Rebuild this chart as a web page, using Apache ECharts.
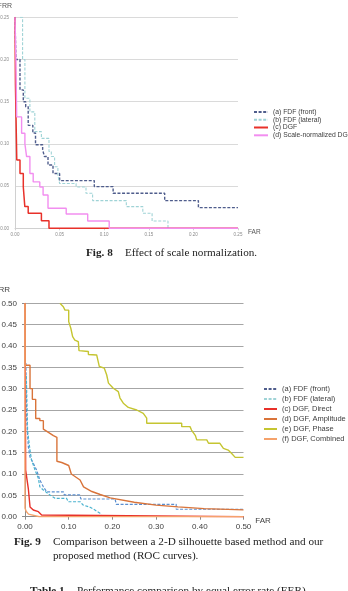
<!DOCTYPE html>
<html>
<head>
<meta charset="utf-8">
<script src="https://cdn.jsdelivr.net/npm/echarts@6/dist/echarts.min.js"></script>
<style>
html, body {margin: 0; padding: 0; background: #fff;}
#chart {width: 348px; height: 591px;}
</style>
</head>
<body>
<div id="chart"></div>
<script>
// Fig. 8 - effect of scale normalization, [FAR, FRR] step points
const fig8Names = ['(a) FDF (front)', '(b) FDF (lateral)', '(c) DGF', '(d) Scale-normalized DGF']
const fig8Front = [[0, 0.25], [0.001, 0.20], [0.0056, 0.164], [0.0093, 0.15], [0.012, 0.144], [0.0148, 0.122],
    [0.02, 0.113], [0.023, 0.099], [0.031, 0.093], [0.033, 0.085], [0.037, 0.075], [0.0426, 0.065],
    [0.05, 0.0565], [0.0889, 0.0494], [0.11, 0.0415], [0.1678, 0.0328], [0.2056, 0.0245], [0.25, 0.0245]]
const fig8Lateral = [[0.0056, 0.25], [0.0085, 0.20], [0.0111, 0.154], [0.0167, 0.138], [0.0222, 0.1145],
    [0.0296, 0.1066], [0.0381, 0.091], [0.0407, 0.085], [0.0444, 0.073], [0.0481, 0.063], [0.05, 0.053],
    [0.0685, 0.049], [0.0796, 0.0415], [0.087, 0.0328], [0.1248, 0.0257], [0.1433, 0.0178], [0.1537, 0.0087],
    [0.1715, 0]]
const fig8Dgf = [[0, 0.25], [0.0005, 0.17], [0.0015, 0.11], [0.002, 0.081], [0.0056, 0.065], [0.0093, 0.049],
    [0.011, 0.0257], [0.0148, 0.0178], [0.0296, 0.009], [0.0381, 0], [0.25, 0]]
const fig8Scaled = [[0, 0.25], [0.001, 0.2], [0.0019, 0.132], [0.0074, 0.1126], [0.0111, 0.1], [0.013, 0.085],
    [0.0167, 0.065], [0.0204, 0.055], [0.0278, 0.049], [0.0315, 0.0395], [0.037, 0.0237], [0.0574, 0.017],
    [0.0815, 0.0087], [0.1056, 0], [0.25, 0]]

// Fig. 9 - ROC curves, [FAR, FRR] polyline vertices
const fig9Names = ['(a) FDF (front)', '(b) FDF (lateral)', '(c) DGF, Direct', '(d) DGF, Amplitude',
    '(e) DGF, Phase', '(f) DGF, Combined']
const fig9Front = [[0.002, 0.36], [0.004, 0.227], [0.0076, 0.164], [0.0114, 0.14], [0.019, 0.125], [0.0267, 0.109],
    [0.034, 0.086], [0.042, 0.07], [0.05, 0.058], [0.088, 0.058], [0.09, 0.051], [0.125, 0.051], [0.128, 0.0415],
    [0.206, 0.0415], [0.209, 0.029], [0.346, 0.029], [0.346, 0.0175], [0.5, 0.0175]]
const fig9Lateral = [[0.003, 0.33], [0.006, 0.2], [0.0114, 0.156], [0.015, 0.133], [0.023, 0.109], [0.0305, 0.09],
    [0.034, 0.07], [0.042, 0.0625], [0.057, 0.051], [0.0687, 0.043], [0.095, 0.043], [0.099, 0.035], [0.126, 0.035],
    [0.133, 0.0274], [0.149, 0.022], [0.16, 0.0157], [0.1716, 0.008], [0.175, 0]]
const fig9Direct = [[0, 0.5], [0.0015, 0.109], [0.0076, 0.066], [0.0115, 0.023], [0.019, 0.0157], [0.0306, 0.0117],
    [0.038, 0.004], [0.04, 0], [0.5, 0]]
const fig9Amplitude = [[0, 0.5], [0, 0.355], [0.0115, 0.355], [0.0115, 0.30], [0.0168, 0.30], [0.0168, 0.275],
    [0.0245, 0.275], [0.0245, 0.23], [0.034, 0.23], [0.034, 0.225], [0.042, 0.225], [0.042, 0.205], [0.05, 0.2],
    [0.065, 0.19], [0.073, 0.186], [0.073, 0.13], [0.084, 0.127], [0.1, 0.12], [0.106, 0.1], [0.126, 0.086],
    [0.134, 0.07], [0.153, 0.059], [0.172, 0.052], [0.195, 0.044], [0.25, 0.034], [0.3, 0.027], [0.35, 0.023],
    [0.41, 0.019], [0.5, 0.016]]
const fig9Phase = [[0.08, 0.5], [0.0877, 0.492], [0.0915, 0.484], [0.1, 0.484], [0.1, 0.457], [0.105, 0.441],
    [0.109, 0.422], [0.114, 0.414], [0.122, 0.41], [0.1236, 0.389], [0.145, 0.387], [0.145, 0.38], [0.164, 0.379],
    [0.17, 0.352], [0.1815, 0.348], [0.187, 0.332], [0.191, 0.313], [0.202, 0.301], [0.2135, 0.293], [0.2174, 0.278],
    [0.225, 0.266], [0.2364, 0.256], [0.2556, 0.25], [0.2707, 0.242], [0.2785, 0.231], [0.2785, 0.219],
    [0.3586, 0.219], [0.3586, 0.211], [0.3776, 0.211], [0.381, 0.203], [0.39, 0.19], [0.393, 0.18], [0.416, 0.18],
    [0.42, 0.172], [0.446, 0.172], [0.454, 0.16], [0.465, 0.156], [0.473, 0.148], [0.481, 0.139], [0.5, 0.139]]
const fig9Combined = [[0, 0.5], [0, 0.02], [0.003, 0.012], [0.008, 0.006], [0.033, 0], [0.5, 0]]

const fig8Colors = ['#4f5d8c', '#9fd3d6', '#e8312a', '#f28ef0']
const fig9Colors = ['#5b8fd0', '#4bb3cf', '#e8312a', '#d9743a', '#c5c531', '#f5a26b']

const fmt = v => v.toFixed(2)

const chart = echarts.init(document.getElementById('chart'))

function line(name, data, color, width, dashed, axis, step) {
    return {
        name: name, type: 'line', data: data, step: step,
        xAxisIndex: axis, yAxisIndex: axis,
        symbol: 'none', silent: true, animation: false,
        lineStyle: {color: color, width: width, type: dashed ? [3, 1.6] : 'solid'},
        itemStyle: {color: color}
    }
}

const captionFont = '11.2px "Liberation Serif"'
const captionBold = 'bold 11.2px "Liberation Serif"'

chart.setOption({
    animation: false,
    grid: [
        {left: 15, top: 17.3, width: 223, height: 211, outerBoundsMode: 'none', containLabel: false},
        {left: 25, top: 303.3, width: 218.5, height: 213.4, outerBoundsMode: 'none', containLabel: false}
    ],
    xAxis: [
        {
            type: 'value', gridIndex: 0, min: 0, max: 0.25, interval: 0.05,
            name: 'FAR', nameLocation: 'end', nameGap: 10,
            nameTextStyle: {fontSize: 6.5, color: '#555', fontFamily: 'Liberation Sans', verticalAlign: 'top'},
            axisLine: {show: true, lineStyle: {color: '#d0d0d0'}},
            axisTick: {show: true, length: 2, lineStyle: {color: '#d0d0d0'}},
            splitLine: {show: false},
            axisLabel: {fontSize: 4.5, color: '#8a8a8a', margin: 4, formatter: fmt, fontFamily: 'Liberation Sans'}
        },
        {
            type: 'value', gridIndex: 1, min: 0, max: 0.5, interval: 0.1,
            name: 'FAR', nameLocation: 'end', nameGap: 9,
            nameTextStyle: {fontSize: 8, color: '#404040', fontFamily: 'Liberation Sans', verticalAlign: 'top'},
            axisLine: {show: true, lineStyle: {color: '#8c8c8c'}},
            axisTick: {show: true, length: 3, lineStyle: {color: '#8c8c8c'}},
            splitLine: {show: false},
            axisLabel: {fontSize: 8, color: '#404040', margin: 6, formatter: fmt, fontFamily: 'Liberation Sans'}
        }
    ],
    yAxis: [
        {
            type: 'value', gridIndex: 0, min: 0, max: 0.25, interval: 0.05,
            name: 'FRR', nameLocation: 'end', nameGap: 8,
            nameTextStyle: {fontSize: 7, color: '#555', fontFamily: 'Liberation Sans', align: 'right', padding: [0, 3, 0, 0]},
            axisLine: {show: true, lineStyle: {color: '#d0d0d0'}},
            axisTick: {show: false},
            splitLine: {show: true, lineStyle: {color: '#dadada', width: 1}},
            axisLabel: {fontSize: 4.5, color: '#8a8a8a', margin: 6, formatter: fmt, fontFamily: 'Liberation Sans'}
        },
        {
            type: 'value', gridIndex: 1, min: 0, max: 0.5, interval: 0.05,
            name: 'FRR', nameLocation: 'end', nameGap: 10,
            nameTextStyle: {fontSize: 8, color: '#404040', fontFamily: 'Liberation Sans', align: 'right', padding: [0, 15, 0, 0]},
            axisLine: {show: true, lineStyle: {color: '#8c8c8c'}},
            axisTick: {show: true, length: 3, lineStyle: {color: '#8c8c8c'}},
            splitLine: {show: true, lineStyle: {color: '#a6a6a6', width: 1}},
            axisLabel: {fontSize: 8, color: '#404040', margin: 8, formatter: fmt, fontFamily: 'Liberation Sans'}
        }
    ],
    legend: [
        {
            data: fig8Names, orient: 'vertical', left: 253, top: 108, padding: 0,
            itemWidth: 14, itemHeight: 6, itemGap: 0, selectedMode: false,
            itemStyle: {opacity: 0},
            textStyle: {fontSize: 6.8, lineHeight: 7.8, color: '#404040', fontFamily: 'Liberation Sans'}
        },
        {
            data: fig9Names, orient: 'vertical', left: 263, top: 384, padding: 0,
            itemWidth: 13, itemHeight: 8, itemGap: 0, selectedMode: false,
            itemStyle: {opacity: 0},
            textStyle: {fontSize: 7.5, lineHeight: 10, color: '#404040', fontFamily: 'Liberation Sans'}
        }
    ],
    series: [
        line(fig8Names[0], fig8Front, fig8Colors[0], 1.4, true, 0, 'end'),
        line(fig8Names[1], fig8Lateral, fig8Colors[1], 1.1, true, 0, 'end'),
        line(fig8Names[2], fig8Dgf, fig8Colors[2], 1.5, false, 0, 'end'),
        line(fig8Names[3], fig8Scaled, fig8Colors[3], 1.4, false, 0, 'end'),
        line(fig9Names[0], fig9Front, fig9Colors[0], 1.2, true, 1, false),
        line(fig9Names[1], fig9Lateral, fig9Colors[1], 1.2, true, 1, false),
        line(fig9Names[2], fig9Direct, fig9Colors[2], 1.4, false, 1, false),
        line(fig9Names[3], fig9Amplitude, fig9Colors[3], 1.4, false, 1, false),
        line(fig9Names[4], fig9Phase, fig9Colors[4], 1.4, false, 1, false),
        line(fig9Names[5], fig9Combined, fig9Colors[5], 1.4, false, 1, false)
    ],
    graphic: [
        {type: 'text', left: 86, top: 248, style: {text: 'Fig. 8', font: captionBold, fill: '#222'}},
        {type: 'text', left: 125, top: 248, style: {text: 'Effect of scale normalization.', font: captionFont, fill: '#222'}},
        {type: 'text', left: 14, top: 537, style: {text: 'Fig. 9', font: captionBold, fill: '#222'}},
        {type: 'text', left: 53, top: 537, style: {text: 'Comparison between a 2-D silhouette based method and our', font: captionFont, fill: '#222'}},
        {type: 'text', left: 53, top: 551, style: {text: 'proposed method (ROC curves).', font: captionFont, fill: '#222'}},
        {type: 'text', left: 30, top: 586, style: {text: 'Table 1', font: captionBold, fill: '#222'}},
        {type: 'text', left: 77, top: 586, style: {text: 'Performance comparison by equal error rate (EER).', font: captionFont, fill: '#222'}}
    ]
})
</script>
</body>
</html>
